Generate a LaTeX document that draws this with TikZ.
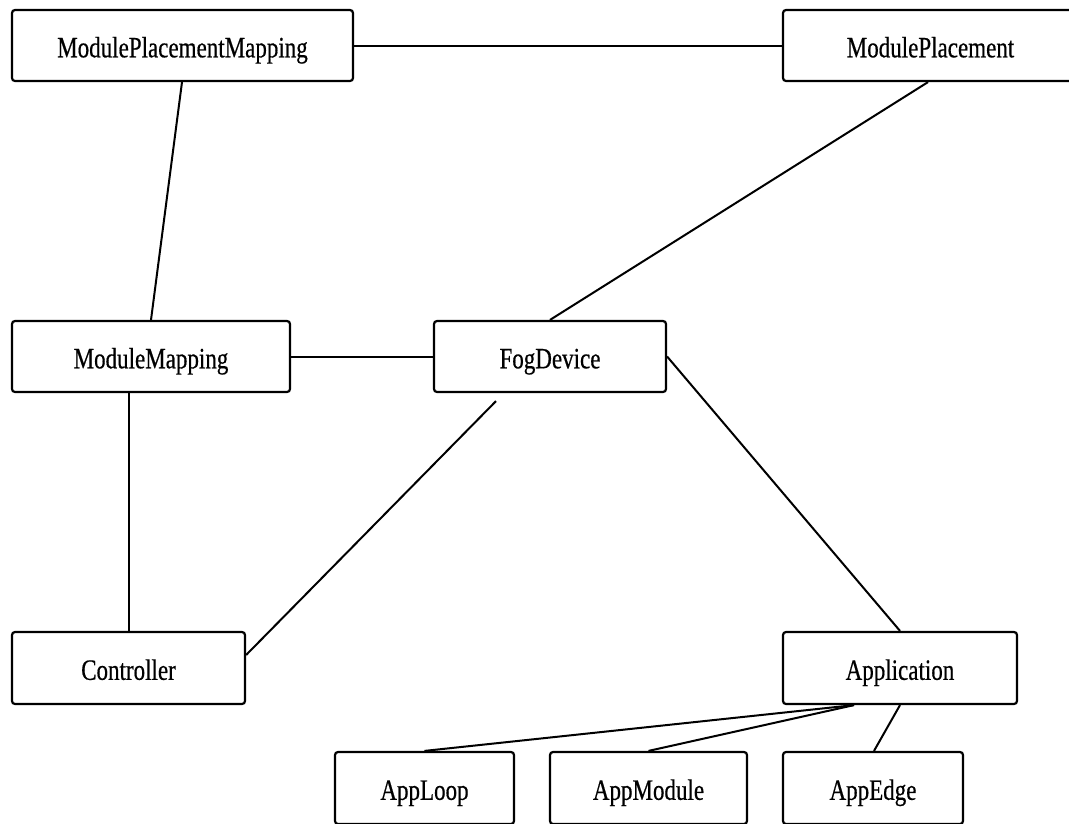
\documentclass[tikz,border=0pt]{standalone}
\usepackage{fontspec}
\setmainfont{Liberation Serif}[FakeStretch=0.78,FakeBold=0.5]
\usetikzlibrary{calc}
\begin{document}
\begin{tikzpicture}[x=1pt,y=-1pt,
  cls/.style={draw=black, line width=2.2pt, rounded corners=3pt, fill=white,
    inner sep=0pt, text height=23.6pt, text depth=0pt, font=\fontsize{29.5}{30}\selectfont},
  link/.style={draw=black, line width=2pt}]
\useasboundingbox (0,0) rectangle (1069,823);
\node[cls, minimum width=341pt, minimum height=71pt] (mpm)  at (182.5,45.5) {ModulePlacementMapping};
\node[cls, minimum width=295pt, minimum height=71pt] (mp)   at (930.5,45.5) {ModulePlacement};
\node[cls, minimum width=278pt, minimum height=71pt] (mm)   at (151,356.5) {ModuleMapping};
\node[cls, minimum width=232pt, minimum height=71pt] (fog)  at (550,356.5) {FogDevice};
\node[cls, minimum width=233pt, minimum height=72pt] (ctrl) at (128.5,668) {Controller};
\node[cls, minimum width=234pt, minimum height=72pt] (app)  at (900,668) {Application};
\node[cls, minimum width=179pt, minimum height=72pt] (loop) at (424.5,788) {AppLoop};
\node[cls, minimum width=197pt, minimum height=72pt] (amod) at (648.5,788) {AppModule};
\node[cls, minimum width=180pt, minimum height=72pt] (edge) at (873,788) {AppEdge};
\coordinate (fogc) at ([xshift=-54pt,yshift=-8pt]fog.south);
\draw[link] (mpm.east) -- (mp.west);
\draw[link] ([xshift=-0.5pt]mpm.south) -- (mm.north);
\draw[link] ([xshift=-2.5pt]mp.south) -- (fog.north);
\draw[link] (mm.east) -- (fog.west);
\draw[link] (mm.south -| ctrl.north) -- (ctrl.north);
\draw[link] (fogc) -- ([yshift=13pt]ctrl.east);
\draw[link] (fog.east) -- (app.north);
\draw[link] ([xshift=-46pt]app.south) -- (loop.north);
\draw[link] ([xshift=-46pt]app.south) -- (amod.north);
\draw[link] (app.south) -- ([xshift=1pt]edge.north);
\end{tikzpicture}
\end{document}
